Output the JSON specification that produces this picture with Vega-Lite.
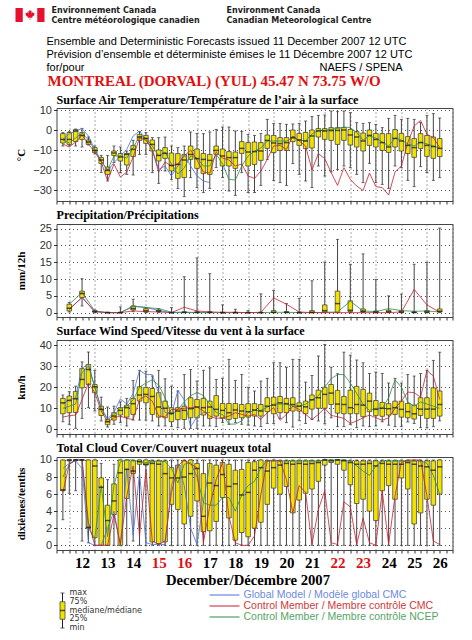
{"$schema":"https://vega.github.io/schema/vega-lite/v6.json","background":"white","padding":{"left":14.5,"top":1,"right":0,"bottom":0},"spacing":23,"bounds":"flush",
"config":{"view":{"stroke":"#444"},"axisY":{"labelFont":"Liberation Sans","labelFontSize":11,"labelColor":"#333","tickSize":3,"tickColor":"#333","domain":false,"grid":true,"gridColor":"#555","gridDash":[1,3],"titleFont":"Liberation Serif","titleFontSize":11,"titleFontWeight":"bold","titleColor":"black","titleX":-30,"labelPadding":2},"title":{"anchor":"start","frame":"group","font":"Liberation Serif","fontWeight":"bold","fontSize":12.1,"color":"black","offset":2}},
"datasets":{
"header_org":[{"line":"org1","col":"fr","text":"Environnement Canada"},{"line":"org2","col":"fr","text":"Centre météorologique canadien"},{"line":"org1","col":"en","text":"Environment Canada"},{"line":"org2","col":"en","text":"Canadian Meteorological Centre"}],
"temp":[
{"h":6,"min":-8,"q1":-6.5,"med":-4.7,"q3":-1.8,"max":-1.3,"cmc":-7,"ncep":-5,"gem":-4.7},
{"h":12,"min":-8,"q1":-7.2,"med":-4.7,"q3":-1.3,"max":-0.8,"cmc":-8.5,"ncep":-6.5,"gem":-2},
{"h":18,"min":-8,"q1":-5.8,"med":-0.5,"q3":0.2,"max":0.5,"cmc":-6,"ncep":-4,"gem":-0.5},
{"h":24,"min":-8.5,"q1":-4.7,"med":-2.7,"q3":-1.3,"max":0.8,"cmc":-2.5,"ncep":-1.5,"gem":0.7},
{"h":30,"min":-7.5,"q1":-7.2,"med":-6,"q3":-5,"max":-3.5,"cmc":-7,"ncep":-5,"gem":-3},
{"h":36,"min":-12,"q1":-11.3,"med":-10.2,"q3":-8.8,"max":-8,"cmc":-11,"ncep":-10,"gem":-9.7},
{"h":42,"min":-21.3,"q1":-16.8,"med":-15,"q3":-13.8,"max":-12.7,"cmc":-16,"ncep":-15.5,"gem":-15.5},
{"h":48,"min":-25.5,"q1":-22.2,"med":-20.2,"q3":-18.5,"max":-12.7,"cmc":-25.5,"ncep":-20,"gem":-20.5},
{"h":54,"min":-16.3,"q1":-12.7,"med":-11.5,"q3":-10.5,"max":-8,"cmc":-17,"ncep":-13,"gem":-16.3},
{"h":60,"min":-21.3,"q1":-15.5,"med":-13.5,"q3":-11.8,"max":-8.5,"cmc":-23.5,"ncep":-13,"gem":-13},
{"h":66,"min":-22.2,"q1":-17.5,"med":-12.2,"q3":-11.7,"max":-10.5,"cmc":-21,"ncep":-14,"gem":-9.7},
{"h":72,"min":-22.5,"q1":-13.3,"med":-9.7,"q3":-7.7,"max":-5.2,"cmc":-13.5,"ncep":-9,"gem":-3},
{"h":78,"min":-12.2,"q1":-5.2,"med":-3.5,"q3":-2.2,"max":-0.8,"cmc":-4,"ncep":-3,"gem":-0.5},
{"h":84,"min":-12.2,"q1":-6.7,"med":-4.2,"q3":-2.7,"max":-1.3,"cmc":-5,"ncep":-4,"gem":-4.7},
{"h":90,"min":-21.3,"q1":-10.5,"med":-7.2,"q3":-5,"max":-3.8,"cmc":-10,"ncep":-8,"gem":-9.7},
{"h":96,"min":-26.7,"q1":-15.5,"med":-12.7,"q3":-10,"max":-3.8,"cmc":-21,"ncep":-13,"gem":-19.7},
{"h":102,"min":-20.5,"q1":-14.2,"med":-11.7,"q3":-8.8,"max":-3.5,"cmc":-16,"ncep":-11,"gem":-18},
{"h":108,"min":-24.7,"q1":-20.5,"med":-17.7,"q3":-11.5,"max":-8,"cmc":-18,"ncep":-17,"gem":-23},
{"h":114,"min":-29.3,"q1":-24.2,"med":-17.2,"q3":-11.8,"max":-8.8,"cmc":-17,"ncep":-22,"gem":-18},
{"h":120,"min":-33.3,"q1":-23.8,"med":-15,"q3":-12.2,"max":-8,"cmc":-13,"ncep":-19,"gem":-12.2},
{"h":126,"min":-23.8,"q1":-14.7,"med":-12.2,"q3":-8,"max":-1,"cmc":-10,"ncep":-13,"gem":-18},
{"h":132,"min":-28.8,"q1":-19.2,"med":-14.3,"q3":-9.5,"max":-1.8,"cmc":-15,"ncep":-14,"gem":-23},
{"h":138,"min":-31.3,"q1":-21.8,"med":-14.7,"q3":-11.7,"max":-1.8,"cmc":-21,"ncep":-18,"gem":-25.5},
{"h":144,"min":-29.2,"q1":-22.2,"med":-15.2,"q3":-12.2,"max":-1,"cmc":-21.5,"ncep":-18,"gem":-26.3},
{"h":150,"min":-18.8,"q1":-12.2,"med":-10.2,"q3":-8,"max":0.3,"cmc":-11,"ncep":-12,"gem":null},
{"h":156,"min":-23.8,"q1":-18,"med":-13,"q3":-9.5,"max":1.5,"cmc":-14,"ncep":-17,"gem":null},
{"h":162,"min":-30.5,"q1":-18,"med":-13.8,"q3":-10.8,"max":1.5,"cmc":-15,"ncep":-24.7,"gem":null},
{"h":168,"min":-32.7,"q1":-19.2,"med":-13.8,"q3":-11,"max":-0.5,"cmc":-18,"ncep":-25,"gem":null},
{"h":174,"min":-21.3,"q1":-11.7,"med":-9.2,"q3":-5.8,"max":-0.8,"cmc":-17,"ncep":-18,"gem":null},
{"h":180,"min":-31.3,"q1":-18,"med":-11,"q3":-6.3,"max":-2.2,"cmc":-23,"ncep":-13,"gem":null},
{"h":186,"min":-31.3,"q1":-17.2,"med":-10.8,"q3":-6,"max":-2.7,"cmc":-24.2,"ncep":-10.5,"gem":null},
{"h":192,"min":-27.7,"q1":-15.2,"med":-10.5,"q3":-6.3,"max":-1.7,"cmc":-20.5,"ncep":-9,"gem":null},
{"h":198,"min":-14.7,"q1":-9.2,"med":-5.2,"q3":-2.5,"max":5.3,"cmc":-14.7,"ncep":-5.5,"gem":null},
{"h":204,"min":-25.2,"q1":-11.3,"med":-6.5,"q3":-2.7,"max":3.3,"cmc":-8,"ncep":-5.5,"gem":null},
{"h":210,"min":-26.3,"q1":-10.2,"med":-6.8,"q3":-3.8,"max":3.3,"cmc":-7.7,"ncep":-5.5,"gem":null},
{"h":216,"min":-27.7,"q1":-10.2,"med":-6.3,"q3":-3.8,"max":2.8,"cmc":-9.7,"ncep":-5.5,"gem":null},
{"h":222,"min":-16.8,"q1":-5.8,"med":-3.8,"q3":0,"max":3,"cmc":-3,"ncep":-3.8,"gem":null},
{"h":228,"min":-22.2,"q1":-7.7,"med":-5,"q3":-1.7,"max":3.3,"cmc":-5.5,"ncep":-5,"gem":null},
{"h":234,"min":-25.5,"q1":-9.3,"med":-5.5,"q3":-1.2,"max":4.5,"cmc":-8,"ncep":-5.5,"gem":null},
{"h":240,"min":-28.8,"q1":-9,"med":-3,"q3":0,"max":6.7,"cmc":-20,"ncep":-2,"gem":null},
{"h":246,"min":-18,"q1":-3.5,"med":-0.5,"q3":0.7,"max":7.3,"cmc":-11.8,"ncep":-0.2,"gem":null},
{"h":252,"min":-23,"q1":-4.7,"med":-0.5,"q3":0.7,"max":7.5,"cmc":-14.3,"ncep":-0.2,"gem":null},
{"h":258,"min":-21,"q1":-5.2,"med":-0.3,"q3":1.2,"max":9.5,"cmc":-21.3,"ncep":0.3,"gem":null},
{"h":264,"min":-19.7,"q1":-7.2,"med":-0.2,"q3":1.2,"max":9.2,"cmc":-27.7,"ncep":0.8,"gem":null},
{"h":270,"min":-18,"q1":-5.2,"med":0,"q3":1.2,"max":9.5,"cmc":-18.8,"ncep":1.5,"gem":null},
{"h":276,"min":-18.8,"q1":-7.5,"med":-2.5,"q3":0.3,"max":8.7,"cmc":-24.7,"ncep":1.2,"gem":null},
{"h":282,"min":-22.2,"q1":-8.5,"med":-3.5,"q3":-0.8,"max":3.7,"cmc":-28,"ncep":-1.3,"gem":null},
{"h":288,"min":-26.3,"q1":-10.5,"med":-5.5,"q3":-1.5,"max":3.3,"cmc":-30.2,"ncep":-5,"gem":null},
{"h":294,"min":-16.7,"q1":-7.7,"med":-2.7,"q3":0,"max":3.7,"cmc":-21.5,"ncep":-3,"gem":null},
{"h":300,"min":-26.3,"q1":-8.5,"med":-4.7,"q3":-1.7,"max":2.8,"cmc":-28.3,"ncep":-4,"gem":null},
{"h":306,"min":-27.2,"q1":-10.2,"med":-6.3,"q3":-1.8,"max":1.2,"cmc":-28.8,"ncep":-6,"gem":null},
{"h":312,"min":-29.2,"q1":-11.2,"med":-8.5,"q3":-1.8,"max":5.8,"cmc":-32.5,"ncep":-8,"gem":null},
{"h":318,"min":-18,"q1":-8.5,"med":-4.2,"q3":0.2,"max":7.3,"cmc":-21,"ncep":-4,"gem":null},
{"h":324,"min":-18.8,"q1":-10.5,"med":-5.5,"q3":-1.7,"max":5.3,"cmc":-18,"ncep":-5,"gem":null},
{"h":330,"min":-25.2,"q1":-11.8,"med":-7.7,"q3":-3.3,"max":5.8,"cmc":-6.3,"ncep":-7,"gem":null},
{"h":336,"min":-28.3,"q1":-13.7,"med":-8.8,"q3":-4.3,"max":5.3,"cmc":2,"ncep":-8,"gem":null},
{"h":342,"min":-18.3,"q1":-9.3,"med":-6.3,"q3":-1.8,"max":3.7,"cmc":4.8,"ncep":-6,"gem":null},
{"h":348,"min":-21.3,"q1":-13.2,"med":-7.7,"q3":-2.7,"max":7.3,"cmc":-2.2,"ncep":-7,"gem":null},
{"h":354,"min":-25.2,"q1":-14.2,"med":-8.3,"q3":-3.5,"max":8.2,"cmc":-3.8,"ncep":-8,"gem":null},
{"h":360,"min":-23.8,"q1":-13.3,"med":-9.2,"q3":-4.3,"max":6,"cmc":-8.8,"ncep":-9,"gem":null}],
"precip":[
{"h":12,"min":0.2,"q1":0.5,"med":1.3,"q3":2.5,"max":3,"cmc":1,"ncep":2.5,"gem":1},
{"h":24,"min":2,"q1":4.5,"med":5.7,"q3":6.4,"max":10.1,"cmc":4.5,"ncep":6,"gem":4.6},
{"h":36,"min":0,"q1":0.2,"med":0.3,"q3":0.6,"max":0.8,"cmc":0.3,"ncep":0.5,"gem":0.3},
{"h":48,"min":0,"q1":0,"med":0,"q3":0.1,"max":0.1,"cmc":0,"ncep":0,"gem":0},
{"h":60,"min":0,"q1":0,"med":0,"q3":0.1,"max":1.7,"cmc":0,"ncep":0,"gem":0},
{"h":72,"min":0.3,"q1":0.8,"med":1.2,"q3":2,"max":4,"cmc":0.5,"ncep":2,"gem":1.8},
{"h":84,"min":0,"q1":0.2,"med":0.6,"q3":1.2,"max":1.5,"cmc":0.3,"ncep":1.5,"gem":1.6},
{"h":96,"min":0,"q1":0.3,"med":0.5,"q3":0.8,"max":1.2,"cmc":0.2,"ncep":1.2,"gem":0.6},
{"h":108,"min":0,"q1":0,"med":0,"q3":0.1,"max":1.5,"cmc":0,"ncep":0.1,"gem":0},
{"h":120,"min":0,"q1":0,"med":0.1,"q3":0.2,"max":10.7,"cmc":1.6,"ncep":0.1,"gem":0.1},
{"h":132,"min":0,"q1":0,"med":0.1,"q3":0.2,"max":16.3,"cmc":0.5,"ncep":0,"gem":0.1},
{"h":144,"min":0,"q1":0,"med":0.1,"q3":0.2,"max":11.6,"cmc":0.2,"ncep":0,"gem":0},
{"h":156,"min":0,"q1":0,"med":0,"q3":0.1,"max":2.3,"cmc":0.1,"ncep":0,"gem":null},
{"h":168,"min":0,"q1":0,"med":0,"q3":0.1,"max":1,"cmc":0.1,"ncep":0,"gem":null},
{"h":180,"min":0,"q1":0,"med":0,"q3":0.1,"max":0.6,"cmc":0,"ncep":0,"gem":null},
{"h":192,"min":0,"q1":0,"med":0,"q3":0.1,"max":5.6,"cmc":0.1,"ncep":0,"gem":null},
{"h":204,"min":0,"q1":0,"med":0.1,"q3":0.6,"max":6.6,"cmc":4.4,"ncep":0.1,"gem":null},
{"h":216,"min":0,"q1":0,"med":0.1,"q3":0.3,"max":2.7,"cmc":2.5,"ncep":0.1,"gem":null},
{"h":228,"min":0,"q1":0,"med":0,"q3":0.1,"max":4.2,"cmc":0.2,"ncep":0,"gem":null},
{"h":240,"min":0,"q1":0,"med":0.1,"q3":0.6,"max":9.5,"cmc":0,"ncep":0,"gem":null},
{"h":252,"min":0,"q1":0.2,"med":0.6,"q3":2.3,"max":15,"cmc":0,"ncep":0.1,"gem":null},
{"h":264,"min":0,"q1":0.1,"med":2.7,"q3":6.4,"max":21.8,"cmc":0,"ncep":0.2,"gem":null},
{"h":276,"min":0,"q1":0.3,"med":0.7,"q3":3.5,"max":14.4,"cmc":0,"ncep":3.4,"gem":null},
{"h":288,"min":0,"q1":0.2,"med":0.4,"q3":1.1,"max":17.5,"cmc":0,"ncep":0.5,"gem":null},
{"h":300,"min":0,"q1":0,"med":0.2,"q3":0.5,"max":9.9,"cmc":0,"ncep":0.3,"gem":null},
{"h":312,"min":0,"q1":0.1,"med":0.3,"q3":0.7,"max":5,"cmc":0,"ncep":1.2,"gem":null},
{"h":324,"min":0,"q1":0,"med":0.2,"q3":0.6,"max":5.5,"cmc":0.2,"ncep":0.6,"gem":null},
{"h":336,"min":0,"q1":0,"med":0.1,"q3":0.2,"max":14.4,"cmc":6.9,"ncep":0.4,"gem":null},
{"h":348,"min":0,"q1":0.1,"med":0.2,"q3":0.6,"max":15,"cmc":2.3,"ncep":0.5,"gem":null},
{"h":360,"min":0,"q1":0.2,"med":0.4,"q3":1.1,"max":25.2,"cmc":0.1,"ncep":0.2,"gem":null}],
"wind":[
{"h":6,"min":3.6,"q1":7.4,"med":12.6,"q3":14.7,"max":16.3,"cmc":5.8,"ncep":10,"gem":12},
{"h":12,"min":2.4,"q1":7.9,"med":13.7,"q3":15.8,"max":17.9,"cmc":6.5,"ncep":11,"gem":14},
{"h":18,"min":0.5,"q1":8,"med":14.5,"q3":18,"max":20.5,"cmc":6.8,"ncep":12,"gem":15},
{"h":24,"min":5.2,"q1":19.7,"med":23.7,"q3":28.8,"max":32,"cmc":14.2,"ncep":27,"gem":29},
{"h":30,"min":10.3,"q1":21.3,"med":28.4,"q3":30.8,"max":36.7,"cmc":22,"ncep":30,"gem":31},
{"h":36,"min":8.7,"q1":17.4,"med":20.2,"q3":21.3,"max":28,"cmc":17.4,"ncep":20,"gem":20},
{"h":42,"min":4,"q1":6.6,"med":9.5,"q3":11,"max":15.3,"cmc":8.7,"ncep":10,"gem":10},
{"h":48,"min":1.1,"q1":2.2,"med":3.6,"q3":4.7,"max":10.6,"cmc":3.5,"ncep":4.5,"gem":5},
{"h":54,"min":2.4,"q1":4.4,"med":6.3,"q3":7.9,"max":11,"cmc":5.5,"ncep":7,"gem":8},
{"h":60,"min":3.2,"q1":6.8,"med":9,"q3":10.3,"max":13,"cmc":6.3,"ncep":10,"gem":14.5},
{"h":66,"min":1.6,"q1":5.8,"med":10.3,"q3":11.5,"max":14.7,"cmc":5.2,"ncep":11,"gem":12},
{"h":72,"min":4.4,"q1":7.1,"med":12.2,"q3":14.7,"max":23.2,"cmc":4.7,"ncep":14,"gem":17},
{"h":78,"min":4.4,"q1":13.4,"med":16.3,"q3":20.2,"max":28,"cmc":14.2,"ncep":20,"gem":28},
{"h":84,"min":4.4,"q1":12.6,"med":16.6,"q3":19.9,"max":27.6,"cmc":15.8,"ncep":22,"gem":26},
{"h":90,"min":4,"q1":7.1,"med":15.6,"q3":19.4,"max":25.3,"cmc":13.4,"ncep":23.5,"gem":26},
{"h":96,"min":1.6,"q1":5.8,"med":10.6,"q3":17.4,"max":28,"cmc":6.3,"ncep":21,"gem":17},
{"h":102,"min":1.6,"q1":5.5,"med":10,"q3":13.4,"max":24,"cmc":6,"ncep":15,"gem":8},
{"h":108,"min":1.3,"q1":3.6,"med":7.6,"q3":10.3,"max":20.5,"cmc":9.5,"ncep":7,"gem":7},
{"h":114,"min":0.8,"q1":4.6,"med":8.7,"q3":10.3,"max":18.2,"cmc":9.5,"ncep":9.5,"gem":18.5},
{"h":120,"min":0.5,"q1":4.7,"med":9,"q3":11,"max":26,"cmc":10,"ncep":13,"gem":14},
{"h":126,"min":0.5,"q1":5.5,"med":9.8,"q3":15,"max":28.4,"cmc":10.3,"ncep":16,"gem":1.2},
{"h":132,"min":0.5,"q1":5.5,"med":10.6,"q3":14.2,"max":22.9,"cmc":10.6,"ncep":17.5,"gem":6},
{"h":138,"min":1.6,"q1":6.8,"med":10.3,"q3":14.7,"max":28,"cmc":8.7,"ncep":16,"gem":8},
{"h":144,"min":1.6,"q1":5.2,"med":10.6,"q3":13.4,"max":29.2,"cmc":6.3,"ncep":12,"gem":8},
{"h":150,"min":1.3,"q1":6.3,"med":9.5,"q3":16,"max":23.7,"cmc":5.2,"ncep":8,"gem":null},
{"h":156,"min":3.2,"q1":5.2,"med":9,"q3":12.3,"max":24.2,"cmc":5.5,"ncep":7,"gem":null},
{"h":162,"min":2.4,"q1":4.7,"med":7.9,"q3":12.3,"max":33.2,"cmc":6.3,"ncep":2.5,"gem":null},
{"h":168,"min":3.2,"q1":5.2,"med":9.2,"q3":12.3,"max":23.2,"cmc":7.9,"ncep":2.5,"gem":null},
{"h":174,"min":2.4,"q1":5.5,"med":8.7,"q3":11.8,"max":26,"cmc":7.1,"ncep":4,"gem":null},
{"h":180,"min":2,"q1":5.8,"med":8.4,"q3":12.2,"max":20,"cmc":6.3,"ncep":8,"gem":null},
{"h":186,"min":1.6,"q1":6.3,"med":9.2,"q3":12.2,"max":18.2,"cmc":7.1,"ncep":9,"gem":null},
{"h":192,"min":1.3,"q1":6.3,"med":8.7,"q3":11.8,"max":22.9,"cmc":4.7,"ncep":9,"gem":null},
{"h":198,"min":2.8,"q1":8.4,"med":11,"q3":15,"max":24.2,"cmc":7.9,"ncep":10.5,"gem":null},
{"h":204,"min":2.8,"q1":7.4,"med":11.5,"q3":15.3,"max":31.6,"cmc":10.3,"ncep":12,"gem":null},
{"h":210,"min":5.2,"q1":7.9,"med":12.6,"q3":15.6,"max":31.6,"cmc":4.3,"ncep":12,"gem":null},
{"h":216,"min":3.2,"q1":7.9,"med":12.2,"q3":14.7,"max":29.5,"cmc":7.1,"ncep":12,"gem":null},
{"h":222,"min":1.1,"q1":8.7,"med":11.8,"q3":15,"max":33.2,"cmc":11,"ncep":11,"gem":null},
{"h":228,"min":4.3,"q1":8.7,"med":11,"q3":12.6,"max":33.2,"cmc":9.5,"ncep":11,"gem":null},
{"h":234,"min":2.8,"q1":7.4,"med":10.7,"q3":13.4,"max":22.4,"cmc":7.1,"ncep":12,"gem":null},
{"h":240,"min":4.7,"q1":9.6,"med":14,"q3":16.3,"max":25.6,"cmc":4.7,"ncep":14,"gem":null},
{"h":246,"min":4,"q1":10,"med":15,"q3":18.6,"max":34.8,"cmc":7.1,"ncep":16,"gem":null},
{"h":252,"min":2.7,"q1":10,"med":16.6,"q3":20,"max":40.3,"cmc":10,"ncep":20,"gem":null},
{"h":258,"min":5.5,"q1":11.8,"med":17.2,"q3":21.3,"max":29.5,"cmc":6.6,"ncep":24,"gem":null},
{"h":264,"min":1.3,"q1":7.7,"med":12,"q3":18.5,"max":26.4,"cmc":6,"ncep":26,"gem":null},
{"h":270,"min":1.3,"q1":7.4,"med":11.8,"q3":15.6,"max":36.6,"cmc":5.2,"ncep":26,"gem":null},
{"h":276,"min":2.4,"q1":7.4,"med":10.3,"q3":18.6,"max":35.2,"cmc":2.8,"ncep":22,"gem":null},
{"h":282,"min":0.8,"q1":7.4,"med":11.8,"q3":20.4,"max":32.9,"cmc":4,"ncep":17,"gem":null},
{"h":288,"min":1.6,"q1":6,"med":11.5,"q3":19,"max":31.6,"cmc":5.5,"ncep":12,"gem":null},
{"h":294,"min":1.3,"q1":8.4,"med":13.4,"q3":17.2,"max":26.5,"cmc":6.8,"ncep":9,"gem":null},
{"h":300,"min":1.6,"q1":6.5,"med":9.5,"q3":13.7,"max":27.2,"cmc":5.5,"ncep":10,"gem":null},
{"h":306,"min":3.6,"q1":6.2,"med":10,"q3":12.8,"max":26.5,"cmc":4.3,"ncep":10,"gem":null},
{"h":312,"min":2,"q1":6.8,"med":9.8,"q3":12.2,"max":22,"cmc":5.5,"ncep":15,"gem":null},
{"h":318,"min":1.3,"q1":7.1,"med":10.3,"q3":13.4,"max":24.2,"cmc":10,"ncep":23.5,"gem":null},
{"h":324,"min":1.3,"q1":5.8,"med":9.5,"q3":13.4,"max":22,"cmc":13.4,"ncep":20,"gem":null},
{"h":330,"min":3.5,"q1":5.5,"med":8.4,"q3":12.3,"max":26,"cmc":17.7,"ncep":13,"gem":null},
{"h":336,"min":2.8,"q1":4.9,"med":7.4,"q3":11.5,"max":25.3,"cmc":17.4,"ncep":11,"gem":null},
{"h":342,"min":0.8,"q1":6.6,"med":9.6,"q3":15,"max":26.5,"cmc":15.3,"ncep":13,"gem":null},
{"h":348,"min":0.8,"q1":5.2,"med":9.6,"q3":15,"max":28,"cmc":28,"ncep":12,"gem":null},
{"h":354,"min":1.3,"q1":5.2,"med":9.6,"q3":19.7,"max":32.7,"cmc":25.3,"ncep":11,"gem":null},
{"h":360,"min":4,"q1":6.3,"med":11.8,"q3":18.2,"max":36.6,"cmc":14.2,"ncep":10,"gem":null}],
"cloud":[
{"h":6,"min":3,"q1":6.4,"med":6.5,"q3":10,"max":10,"cmc":6.2,"ncep":8,"gem":9},
{"h":12,"min":6.1,"q1":9.9,"med":10,"q3":10,"max":10,"cmc":9.5,"ncep":9.5,"gem":9.6},
{"h":18,"min":6.4,"q1":10,"med":10,"q3":10,"max":10,"cmc":10,"ncep":10,"gem":9.9},
{"h":24,"min":0.5,"q1":10,"med":10,"q3":10,"max":10,"cmc":10,"ncep":10,"gem":9},
{"h":30,"min":0.3,"q1":2,"med":2.1,"q3":10,"max":10,"cmc":2.7,"ncep":2,"gem":0.3},
{"h":36,"min":0,"q1":0.9,"med":9.3,"q3":10,"max":10,"cmc":0,"ncep":0.8,"gem":0},
{"h":42,"min":0,"q1":0,"med":6.8,"q3":7.9,"max":9.6,"cmc":0,"ncep":7,"gem":0},
{"h":48,"min":0,"q1":0,"med":2.9,"q3":4.7,"max":7.7,"cmc":0,"ncep":1,"gem":2},
{"h":54,"min":0,"q1":3.6,"med":5.2,"q3":7.2,"max":9.5,"cmc":3.6,"ncep":7,"gem":4},
{"h":60,"min":0,"q1":0,"med":8.5,"q3":10,"max":10,"cmc":0.1,"ncep":9.8,"gem":0},
{"h":66,"min":0,"q1":5.5,"med":8.9,"q3":10,"max":10,"cmc":5.8,"ncep":10,"gem":9},
{"h":72,"min":0.5,"q1":8.4,"med":8.7,"q3":9.9,"max":10,"cmc":9.3,"ncep":10,"gem":1.2},
{"h":78,"min":0,"q1":9.5,"med":9.8,"q3":10,"max":10,"cmc":1.1,"ncep":9.8,"gem":8.5},
{"h":84,"min":0,"q1":9.4,"med":9.5,"q3":10,"max":10,"cmc":8.9,"ncep":9.7,"gem":0.3},
{"h":90,"min":0,"q1":0.4,"med":9.6,"q3":9.9,"max":10,"cmc":0.5,"ncep":9.8,"gem":0.1},
{"h":96,"min":0,"q1":0.2,"med":9.5,"q3":9.9,"max":10,"cmc":0.1,"ncep":9.9,"gem":0.1},
{"h":102,"min":0,"q1":0.4,"med":8.4,"q3":9.9,"max":10,"cmc":0.5,"ncep":9.8,"gem":0.1},
{"h":108,"min":0,"q1":4.8,"med":7.9,"q3":9.1,"max":10,"cmc":6.2,"ncep":9,"gem":7},
{"h":114,"min":0,"q1":4.2,"med":7.9,"q3":9.4,"max":10,"cmc":9.3,"ncep":7.3,"gem":9.5},
{"h":120,"min":0,"q1":2.5,"med":8,"q3":9.9,"max":10,"cmc":10,"ncep":9.5,"gem":7},
{"h":126,"min":0,"q1":3.4,"med":8.4,"q3":10,"max":10,"cmc":9.5,"ncep":9.7,"gem":2},
{"h":132,"min":0,"q1":5.2,"med":9,"q3":9.6,"max":10,"cmc":9.1,"ncep":8,"gem":0.1},
{"h":138,"min":0,"q1":1.6,"med":3.4,"q3":8.4,"max":10,"cmc":0.3,"ncep":5,"gem":5},
{"h":144,"min":0,"q1":1.7,"med":7.3,"q3":9.6,"max":10,"cmc":4.6,"ncep":4.7,"gem":9.5},
{"h":150,"min":0,"q1":2.8,"med":7,"q3":9.4,"max":10,"cmc":7.7,"ncep":4.7,"gem":null},
{"h":156,"min":0,"q1":5.6,"med":8.3,"q3":9.7,"max":10,"cmc":9.7,"ncep":5.6,"gem":null},
{"h":162,"min":0,"q1":3.2,"med":6.9,"q3":9.5,"max":10,"cmc":3.4,"ncep":5.6,"gem":null},
{"h":168,"min":0,"q1":0.6,"med":7.2,"q3":8.8,"max":10,"cmc":0.3,"ncep":4,"gem":null},
{"h":174,"min":0,"q1":1.5,"med":5.9,"q3":8.9,"max":10,"cmc":0,"ncep":5.9,"gem":null},
{"h":180,"min":0,"q1":1,"med":6.2,"q3":9.7,"max":10,"cmc":0,"ncep":7,"gem":null},
{"h":186,"min":0,"q1":2,"med":8.8,"q3":9.8,"max":10,"cmc":1.1,"ncep":7.5,"gem":null},
{"h":192,"min":0,"q1":2.7,"med":9.1,"q3":10,"max":10,"cmc":6,"ncep":9.1,"gem":null},
{"h":198,"min":0,"q1":4.8,"med":8.7,"q3":9.9,"max":10,"cmc":9.9,"ncep":9.9,"gem":null},
{"h":204,"min":0,"q1":6.7,"med":9.1,"q3":9.9,"max":10,"cmc":10,"ncep":9.9,"gem":null},
{"h":210,"min":0,"q1":6,"med":9.4,"q3":9.9,"max":10,"cmc":9.9,"ncep":9.9,"gem":null},
{"h":216,"min":0,"q1":6.9,"med":9.6,"q3":9.9,"max":10,"cmc":7.7,"ncep":9.9,"gem":null},
{"h":222,"min":0,"q1":3.8,"med":9.5,"q3":9.9,"max":10,"cmc":3.8,"ncep":9.9,"gem":null},
{"h":228,"min":0,"q1":5.3,"med":9.6,"q3":9.9,"max":10,"cmc":7,"ncep":9.9,"gem":null},
{"h":234,"min":0,"q1":6.1,"med":9.5,"q3":9.9,"max":10,"cmc":6.2,"ncep":9.9,"gem":null},
{"h":240,"min":0,"q1":6.6,"med":9.6,"q3":9.9,"max":10,"cmc":0.1,"ncep":9.9,"gem":null},
{"h":246,"min":0,"q1":7.5,"med":9.7,"q3":9.9,"max":10,"cmc":4.2,"ncep":9.9,"gem":null},
{"h":252,"min":0,"q1":9.4,"med":10,"q3":10,"max":10,"cmc":6.4,"ncep":10,"gem":null},
{"h":258,"min":0,"q1":9.7,"med":9.9,"q3":10,"max":10,"cmc":0.3,"ncep":10,"gem":null},
{"h":264,"min":0,"q1":9.5,"med":10,"q3":10,"max":10,"cmc":0.1,"ncep":10,"gem":null},
{"h":270,"min":0,"q1":8.8,"med":9.9,"q3":10,"max":10,"cmc":5.1,"ncep":10,"gem":null},
{"h":276,"min":0,"q1":7.1,"med":9.7,"q3":9.9,"max":10,"cmc":4.5,"ncep":9.9,"gem":null},
{"h":282,"min":0,"q1":4.9,"med":9.5,"q3":9.9,"max":10,"cmc":0.1,"ncep":9.3,"gem":null},
{"h":288,"min":0,"q1":5.4,"med":9.5,"q3":9.9,"max":10,"cmc":3.2,"ncep":8.7,"gem":null},
{"h":294,"min":0,"q1":4,"med":9.6,"q3":9.9,"max":10,"cmc":0.3,"ncep":8.2,"gem":null},
{"h":300,"min":0,"q1":2.9,"med":9.3,"q3":9.9,"max":10,"cmc":0,"ncep":9.3,"gem":null},
{"h":306,"min":0,"q1":6.4,"med":9.6,"q3":9.9,"max":10,"cmc":6.4,"ncep":9.9,"gem":null},
{"h":312,"min":0,"q1":7,"med":9.5,"q3":9.9,"max":10,"cmc":0.1,"ncep":9.9,"gem":null},
{"h":318,"min":0,"q1":5.4,"med":9.5,"q3":9.9,"max":10,"cmc":5.8,"ncep":9.9,"gem":null},
{"h":324,"min":0,"q1":7.9,"med":9.5,"q3":9.9,"max":10,"cmc":9.7,"ncep":9.9,"gem":null},
{"h":330,"min":0,"q1":6.6,"med":9.7,"q3":9.9,"max":10,"cmc":10,"ncep":9.9,"gem":null},
{"h":336,"min":0,"q1":2.5,"med":9.5,"q3":9.9,"max":10,"cmc":10,"ncep":9.9,"gem":null},
{"h":342,"min":0,"q1":3.8,"med":9.3,"q3":9.9,"max":10,"cmc":10,"ncep":9.9,"gem":null},
{"h":348,"min":0,"q1":5.4,"med":9.2,"q3":9.9,"max":10,"cmc":5.8,"ncep":9.6,"gem":null},
{"h":354,"min":0,"q1":4.7,"med":8.8,"q3":9.9,"max":10,"cmc":0.5,"ncep":8.2,"gem":null},
{"h":360,"min":0,"q1":6,"med":9.2,"q3":10,"max":10,"cmc":0.1,"ncep":6,"gem":null}]
},
"vconcat":[
{"width":396,"height":84,"view":{"stroke":null},"resolve":{"scale":{"x":"independent","y":"independent"}},"layer":[
{"data":{"values":[{"key":"flag","row":"flag"}]},"mark":{"type":"point","filled":true,"opacity":1,"color":"#e8112d","size":841,"shape":"M-1,-.48H-.5V.48H-1Z M.5,-.48H1V.48H.5Z M0,-.38 L.06,-.26 L.12,-.28 L.1,-.1 L.2,-.2 L.22,-.14 L.32,-.15 L.28,-.03 L.32,0 L.14,.14 L.16,.2 L.02,.18 L.02,.34 L-.02,.34 L-.02,.18 L-.16,.2 L-.14,.14 L-.32,0 L-.28,-.03 L-.32,-.15 L-.22,-.14 L-.2,-.2 L-.1,-.1 L-.12,-.28 L-.06,-.26 Z"},"encoding":{"x":{"field":"key","type":"ordinal","axis":null,"scale":{"type":"point","padding":0,"domain":["flag"],"range":[-26.5,-26.5]}},"y":{"field":"row","type":"ordinal","axis":null,"scale":{"type":"point","padding":0,"domain":["flag"],"range":[14,14]}}}},
{"data":{"name":"header_org"},"mark":{"type":"text","align":"left","baseline":"middle","font":"DejaVu Sans","fontWeight":"bold","fontSize":8,"color":"#222"},"encoding":{"text":{"field":"text"},"x":{"field":"col","type":"ordinal","axis":null,"scale":{"type":"point","padding":0,"domain":["fr","en"],"range":[-5,170]}},"y":{"field":"line","type":"ordinal","axis":null,"scale":{"type":"point","padding":0,"domain":["org1","org2"],"range":[10,20]}}}},
{"data":{"values":[{"line":"issued","col":"left","text":"Ensemble and Deterministic Forecasts issued 11 December 2007 12 UTC"},{"line":"prevision","col":"left","text":"Prévision d’ensemble et déterministe émises le 11 Décembre 2007 12 UTC"},{"line":"forpour","col":"left","text":"for/pour"},{"line":"forpour","col":"naefs","text":"NAEFS / SPENA"}]},"mark":{"type":"text","align":"left","baseline":"middle","font":"Liberation Sans","fontSize":11,"color":"black"},"encoding":{"text":{"field":"text"},"x":{"field":"col","type":"ordinal","axis":null,"scale":{"type":"point","padding":0,"domain":["left","naefs"],"range":[-10,263]}},"y":{"field":"line","type":"ordinal","axis":null,"scale":{"type":"point","padding":0,"domain":["issued","prevision","forpour"],"range":[41,67]}}}},
{"data":{"values":[{"line":"station","col":"left","text":"MONTREAL (DORVAL) (YUL) 45.47 N   73.75 W/O"}]},"mark":{"type":"text","align":"left","baseline":"middle","font":"Liberation Serif","fontWeight":"bold","fontSize":15,"color":"#e01010"},"encoding":{"text":{"field":"text"},"x":{"field":"col","type":"ordinal","axis":null,"scale":{"type":"point","padding":0,"domain":["left"],"range":[-9,-9]}},"y":{"field":"line","type":"ordinal","axis":null,"scale":{"type":"point","padding":0,"domain":["station"],"range":[80,80]}}}}
]},
{"width":396,"height":93,"title":{"text":"Surface Air Temperature/Température de l’air à la surface","offset":-2},"data":{"name":"temp"},
"encoding":{"x":{"field":"h","type":"quantitative","scale":{"domain":[0,372],"nice":false,"zero":false,"padding":0},"axis":{"title":null,"labels":false,"domain":false,"tickSize":3,"tickColor":"#333","values":[0,6,12,18,24,30,36,42,48,54,60,66,72,78,84,90,96,102,108,114,120,126,132,138,144,150,156,162,168,174,180,186,192,198,204,210,216,222,228,234,240,246,252,258,264,270,276,282,288,294,300,306,312,318,324,330,336,342,348,354,360,366,372],"grid":true,"gridColor":"#555","gridDash":[1,3],"gridOpacity":{"condition":{"test":"(datum.value-12)%24==0","value":1},"value":0}}}},
"layer":[
{"mark":{"type":"rule","color":"#444","strokeWidth":1},"encoding":{"y":{"field":"min","type":"quantitative","scale":{"domain":[-35.5,11],"nice":false,"zero":false},"axis":{"title":"°C","values":[10,0,-10,-20,-30]}},"y2":{"field":"max"}}},
{"mark":{"type":"tick","orient":"horizontal","size":3,"thickness":1,"color":"#333"},"encoding":{"y":{"field":"min","type":"quantitative","scale":{"domain":[-35.5,11],"nice":false,"zero":false},"axis":{"title":"°C","values":[10,0,-10,-20,-30]}}}},
{"mark":{"type":"tick","orient":"horizontal","size":3,"thickness":1,"color":"#333"},"encoding":{"y":{"field":"max","type":"quantitative","scale":{"domain":[-35.5,11],"nice":false,"zero":false},"axis":{"title":"°C","values":[10,0,-10,-20,-30]}}}},
{"mark":{"type":"bar","size":4.6,"color":"#f2e200","stroke":"#333","strokeWidth":0.7},"encoding":{"y":{"field":"q3","type":"quantitative","scale":{"domain":[-35.5,11],"nice":false,"zero":false},"axis":{"title":"°C","values":[10,0,-10,-20,-30]}},"y2":{"field":"q1"}}},
{"mark":{"type":"line","color":"#4a70d8","strokeWidth":0.8},"encoding":{"y":{"field":"gem","type":"quantitative","scale":{"domain":[-35.5,11],"nice":false,"zero":false},"axis":{"title":"°C","values":[10,0,-10,-20,-30]}}}},
{"mark":{"type":"line","color":"#2e8b47","strokeWidth":0.8},"encoding":{"y":{"field":"ncep","type":"quantitative","scale":{"domain":[-35.5,11],"nice":false,"zero":false},"axis":{"title":"°C","values":[10,0,-10,-20,-30]}}}},
{"mark":{"type":"line","color":"#c81e2e","strokeWidth":0.8},"encoding":{"y":{"field":"cmc","type":"quantitative","scale":{"domain":[-35.5,11],"nice":false,"zero":false},"axis":{"title":"°C","values":[10,0,-10,-20,-30]}}}},
{"mark":{"type":"tick","orient":"horizontal","size":5,"thickness":1.5,"color":"#111"},"encoding":{"y":{"field":"med","type":"quantitative","scale":{"domain":[-35.5,11],"nice":false,"zero":false},"axis":{"title":"°C","values":[10,0,-10,-20,-30]}}}}
]},
{"width":396,"height":93,"title":"Precipitation/Précipitations","data":{"name":"precip"},
"encoding":{"x":{"field":"h","type":"quantitative","scale":{"domain":[0,372],"nice":false,"zero":false,"padding":0},"axis":{"title":null,"labels":false,"domain":false,"tickSize":3,"tickColor":"#333","values":[0,6,12,18,24,30,36,42,48,54,60,66,72,78,84,90,96,102,108,114,120,126,132,138,144,150,156,162,168,174,180,186,192,198,204,210,216,222,228,234,240,246,252,258,264,270,276,282,288,294,300,306,312,318,324,330,336,342,348,354,360,366,372],"grid":true,"gridColor":"#555","gridDash":[1,3],"gridOpacity":{"condition":{"test":"(datum.value-12)%24==0","value":1},"value":0}}}},
"layer":[
{"mark":{"type":"rule","color":"#444","strokeWidth":1},"encoding":{"y":{"field":"min","type":"quantitative","scale":{"domain":[-1.3,26.4],"nice":false,"zero":false},"axis":{"title":"mm/12h","values":[0,5,10,15,20,25]}},"y2":{"field":"max"}}},
{"mark":{"type":"tick","orient":"horizontal","size":3,"thickness":1,"color":"#333"},"encoding":{"y":{"field":"min","type":"quantitative","scale":{"domain":[-1.3,26.4],"nice":false,"zero":false},"axis":{"title":"mm/12h","values":[0,5,10,15,20,25]}}}},
{"mark":{"type":"tick","orient":"horizontal","size":3,"thickness":1,"color":"#333"},"encoding":{"y":{"field":"max","type":"quantitative","scale":{"domain":[-1.3,26.4],"nice":false,"zero":false},"axis":{"title":"mm/12h","values":[0,5,10,15,20,25]}}}},
{"mark":{"type":"bar","size":4.6,"color":"#f2e200","stroke":"#333","strokeWidth":0.7},"encoding":{"y":{"field":"q3","type":"quantitative","scale":{"domain":[-1.3,26.4],"nice":false,"zero":false},"axis":{"title":"mm/12h","values":[0,5,10,15,20,25]}},"y2":{"field":"q1"}}},
{"mark":{"type":"line","color":"#4a70d8","strokeWidth":0.8},"encoding":{"y":{"field":"gem","type":"quantitative","scale":{"domain":[-1.3,26.4],"nice":false,"zero":false},"axis":{"title":"mm/12h","values":[0,5,10,15,20,25]}}}},
{"mark":{"type":"line","color":"#2e8b47","strokeWidth":0.8},"encoding":{"y":{"field":"ncep","type":"quantitative","scale":{"domain":[-1.3,26.4],"nice":false,"zero":false},"axis":{"title":"mm/12h","values":[0,5,10,15,20,25]}}}},
{"mark":{"type":"line","color":"#c81e2e","strokeWidth":0.8},"encoding":{"y":{"field":"cmc","type":"quantitative","scale":{"domain":[-1.3,26.4],"nice":false,"zero":false},"axis":{"title":"mm/12h","values":[0,5,10,15,20,25]}}}},
{"mark":{"type":"tick","orient":"horizontal","size":5,"thickness":1.5,"color":"#111"},"encoding":{"y":{"field":"med","type":"quantitative","scale":{"domain":[-1.3,26.4],"nice":false,"zero":false},"axis":{"title":"mm/12h","values":[0,5,10,15,20,25]}}}}
]},
{"width":396,"height":94,"title":"Surface Wind Speed/Vitesse du vent à la surface","data":{"name":"wind"},
"encoding":{"x":{"field":"h","type":"quantitative","scale":{"domain":[0,372],"nice":false,"zero":false,"padding":0},"axis":{"title":null,"labels":false,"domain":false,"tickSize":3,"tickColor":"#333","values":[0,6,12,18,24,30,36,42,48,54,60,66,72,78,84,90,96,102,108,114,120,126,132,138,144,150,156,162,168,174,180,186,192,198,204,210,216,222,228,234,240,246,252,258,264,270,276,282,288,294,300,306,312,318,324,330,336,342,348,354,360,366,372],"grid":true,"gridColor":"#555","gridDash":[1,3],"gridOpacity":{"condition":{"test":"(datum.value-12)%24==0","value":1},"value":0}}}},
"layer":[
{"mark":{"type":"rule","color":"#444","strokeWidth":1},"encoding":{"y":{"field":"min","type":"quantitative","scale":{"domain":[-2.2,42.4],"nice":false,"zero":false},"axis":{"title":"km/h","values":[0,10,20,30,40]}},"y2":{"field":"max"}}},
{"mark":{"type":"tick","orient":"horizontal","size":3,"thickness":1,"color":"#333"},"encoding":{"y":{"field":"min","type":"quantitative","scale":{"domain":[-2.2,42.4],"nice":false,"zero":false},"axis":{"title":"km/h","values":[0,10,20,30,40]}}}},
{"mark":{"type":"tick","orient":"horizontal","size":3,"thickness":1,"color":"#333"},"encoding":{"y":{"field":"max","type":"quantitative","scale":{"domain":[-2.2,42.4],"nice":false,"zero":false},"axis":{"title":"km/h","values":[0,10,20,30,40]}}}},
{"mark":{"type":"bar","size":4.6,"color":"#f2e200","stroke":"#333","strokeWidth":0.7},"encoding":{"y":{"field":"q3","type":"quantitative","scale":{"domain":[-2.2,42.4],"nice":false,"zero":false},"axis":{"title":"km/h","values":[0,10,20,30,40]}},"y2":{"field":"q1"}}},
{"mark":{"type":"line","color":"#4a70d8","strokeWidth":0.8},"encoding":{"y":{"field":"gem","type":"quantitative","scale":{"domain":[-2.2,42.4],"nice":false,"zero":false},"axis":{"title":"km/h","values":[0,10,20,30,40]}}}},
{"mark":{"type":"line","color":"#2e8b47","strokeWidth":0.8},"encoding":{"y":{"field":"ncep","type":"quantitative","scale":{"domain":[-2.2,42.4],"nice":false,"zero":false},"axis":{"title":"km/h","values":[0,10,20,30,40]}}}},
{"mark":{"type":"line","color":"#c81e2e","strokeWidth":0.8},"encoding":{"y":{"field":"cmc","type":"quantitative","scale":{"domain":[-2.2,42.4],"nice":false,"zero":false},"axis":{"title":"km/h","values":[0,10,20,30,40]}}}},
{"mark":{"type":"tick","orient":"horizontal","size":5,"thickness":1.5,"color":"#111"},"encoding":{"y":{"field":"med","type":"quantitative","scale":{"domain":[-2.2,42.4],"nice":false,"zero":false},"axis":{"title":"km/h","values":[0,10,20,30,40]}}}}
]},
{"width":396,"height":93,"title":{"text":"Total Cloud Cover/Couvert nuageux total","offset":0},"data":{"name":"cloud"},
"encoding":{"x":{"field":"h","type":"quantitative","scale":{"domain":[0,372],"nice":false,"zero":false,"padding":0},"axis":{"title":"December/Décembre 2007","titleFont":"Liberation Serif","titleFontWeight":"bold","titleFontSize":14.7,"titleColor":"black","titleX":191,"titleY":22,"domain":false,"tickSize":3,"tickColor":"#333","labelFont":"Liberation Serif","labelFontWeight":"bold","labelFontSize":15,"labelPadding":2,"labelOverlap":false,"labelFlush":false,"labelColor":{"condition":{"test":"indexof([96,120,264,288],datum.value)>=0","value":"#e01010"},"value":"black"},"labelExpr":"datum.value>0 && datum.value%24==0 ? toString(11+datum.value/24) : ''","values":[0,6,12,18,24,30,36,42,48,54,60,66,72,78,84,90,96,102,108,114,120,126,132,138,144,150,156,162,168,174,180,186,192,198,204,210,216,222,228,234,240,246,252,258,264,270,276,282,288,294,300,306,312,318,324,330,336,342,348,354,360,366,372],"grid":true,"gridColor":"#555","gridDash":[1,3],"gridOpacity":{"condition":{"test":"(datum.value-12)%24==0","value":1},"value":0}}}},
"layer":[
{"mark":{"type":"rule","color":"#444","strokeWidth":1},"encoding":{"y":{"field":"min","type":"quantitative","scale":{"domain":[-0.55,10.35],"nice":false,"zero":false},"axis":{"title":"dixièmes/tenths","values":[0,2,4,6,8,10]}},"y2":{"field":"max"}}},
{"mark":{"type":"tick","orient":"horizontal","size":3,"thickness":1,"color":"#333"},"encoding":{"y":{"field":"min","type":"quantitative","scale":{"domain":[-0.55,10.35],"nice":false,"zero":false},"axis":{"title":"dixièmes/tenths","values":[0,2,4,6,8,10]}}}},
{"mark":{"type":"tick","orient":"horizontal","size":3,"thickness":1,"color":"#333"},"encoding":{"y":{"field":"max","type":"quantitative","scale":{"domain":[-0.55,10.35],"nice":false,"zero":false},"axis":{"title":"dixièmes/tenths","values":[0,2,4,6,8,10]}}}},
{"mark":{"type":"bar","size":4.6,"color":"#f2e200","stroke":"#333","strokeWidth":0.7},"encoding":{"y":{"field":"q3","type":"quantitative","scale":{"domain":[-0.55,10.35],"nice":false,"zero":false},"axis":{"title":"dixièmes/tenths","values":[0,2,4,6,8,10]}},"y2":{"field":"q1"}}},
{"mark":{"type":"line","color":"#4a70d8","strokeWidth":0.8},"encoding":{"y":{"field":"gem","type":"quantitative","scale":{"domain":[-0.55,10.35],"nice":false,"zero":false},"axis":{"title":"dixièmes/tenths","values":[0,2,4,6,8,10]}}}},
{"mark":{"type":"line","color":"#2e8b47","strokeWidth":0.8},"encoding":{"y":{"field":"ncep","type":"quantitative","scale":{"domain":[-0.55,10.35],"nice":false,"zero":false},"axis":{"title":"dixièmes/tenths","values":[0,2,4,6,8,10]}}}},
{"mark":{"type":"line","color":"#c81e2e","strokeWidth":0.8},"encoding":{"y":{"field":"cmc","type":"quantitative","scale":{"domain":[-0.55,10.35],"nice":false,"zero":false},"axis":{"title":"dixièmes/tenths","values":[0,2,4,6,8,10]}}}},
{"mark":{"type":"tick","orient":"horizontal","size":5,"thickness":1.5,"color":"#111"},"encoding":{"y":{"field":"med","type":"quantitative","scale":{"domain":[-0.55,10.35],"nice":false,"zero":false},"axis":{"title":"dixièmes/tenths","values":[0,2,4,6,8,10]}}}}
]},
{"width":396,"height":60,"view":{"stroke":null},"resolve":{"scale":{"x":"independent","y":"independent","color":"independent"}},
"layer":[
{"data":{"values":[{"col":"box","min":0,"q1":25,"med":50,"q3":75,"max":100}]},"mark":{"type":"rule","color":"#222","strokeWidth":1},"encoding":{"x":{"field":"col","type":"ordinal","axis":null,"scale":{"type":"point","padding":0,"domain":["box"],"range":[6,6]}},"y":{"field":"min","type":"quantitative","axis":null,"scale":{"domain":[0,100],"range":[55,20]}},"y2":{"field":"max"}}},
{"data":{"values":[{"col":"box","min":0,"q1":25,"med":50,"q3":75,"max":100}]},"mark":{"type":"bar","size":5,"color":"#f2e200","stroke":"#333","strokeWidth":0.7},"encoding":{"x":{"field":"col","type":"ordinal","axis":null,"scale":{"type":"point","padding":0,"domain":["box"],"range":[6,6]}},"y":{"field":"q3","type":"quantitative","axis":null,"scale":{"domain":[0,100],"range":[55,20]}},"y2":{"field":"q1"}}},
{"data":{"values":[{"col":"box","v":0},{"col":"box","v":100}]},"mark":{"type":"tick","orient":"horizontal","size":4,"thickness":1,"color":"#222"},"encoding":{"x":{"field":"col","type":"ordinal","axis":null,"scale":{"type":"point","padding":0,"domain":["box"],"range":[6,6]}},"y":{"field":"v","type":"quantitative","axis":null,"scale":{"domain":[0,100],"range":[55,20]}}}},
{"data":{"values":[{"col":"box","v":50}]},"mark":{"type":"tick","orient":"horizontal","size":5,"thickness":1.5,"color":"#111"},"encoding":{"x":{"field":"col","type":"ordinal","axis":null,"scale":{"type":"point","padding":0,"domain":["box"],"range":[6,6]}},"y":{"field":"v","type":"quantitative","axis":null,"scale":{"domain":[0,100],"range":[55,20]}}}},
{"data":{"values":[{"col":"txt","v":100,"label":"max"},{"col":"txt","v":75,"label":"75%"},{"col":"txt","v":50,"label":"mediane/médiane"},{"col":"txt","v":25,"label":"25%"},{"col":"txt","v":0,"label":"min"}]},"mark":{"type":"text","align":"left","baseline":"middle","font":"DejaVu Sans","fontSize":8,"color":"#333"},"encoding":{"text":{"field":"label"},"x":{"field":"col","type":"ordinal","axis":null,"scale":{"type":"point","padding":0,"domain":["txt"],"range":[13,13]}},"y":{"field":"v","type":"quantitative","axis":null,"scale":{"domain":[0,100],"range":[55,20]}}}},
{"data":{"values":[{"series":"global","end":"start"},{"series":"global","end":"stop"},{"series":"cmc","end":"start"},{"series":"cmc","end":"stop"},{"series":"ncep","end":"start"},{"series":"ncep","end":"stop"}]},"mark":{"type":"line","strokeWidth":1},"encoding":{"x":{"field":"end","type":"ordinal","axis":null,"scale":{"type":"point","padding":0,"domain":["start","stop"],"range":[153,183]}},"y":{"field":"series","type":"ordinal","axis":null,"scale":{"type":"point","padding":0,"domain":["global","cmc","ncep"],"range":[22,44]}},"color":{"field":"series","type":"nominal","legend":null,"scale":{"domain":["global","cmc","ncep"],"range":["#4a70d8","#c81e2e","#2e8b47"]}}}},
{"data":{"values":[{"series":"global","col":"text","label":"Global Model / Modèle global CMC"},{"series":"cmc","col":"text","label":"Control Member / Membre contrôle CMC"},{"series":"ncep","col":"text","label":"Control Member / Membre contrôle NCEP"}]},"mark":{"type":"text","align":"left","baseline":"middle","font":"Liberation Sans","fontSize":10.5},"encoding":{"text":{"field":"label"},"x":{"field":"col","type":"ordinal","axis":null,"scale":{"type":"point","padding":0,"domain":["text"],"range":[187,187]}},"y":{"field":"series","type":"ordinal","axis":null,"scale":{"type":"point","padding":0,"domain":["global","cmc","ncep"],"range":[22,44]}},"color":{"field":"series","type":"nominal","legend":null,"scale":{"domain":["global","cmc","ncep"],"range":["#6d8be0","#cf3a3a","#55a565"]}}}}
]}
]}
